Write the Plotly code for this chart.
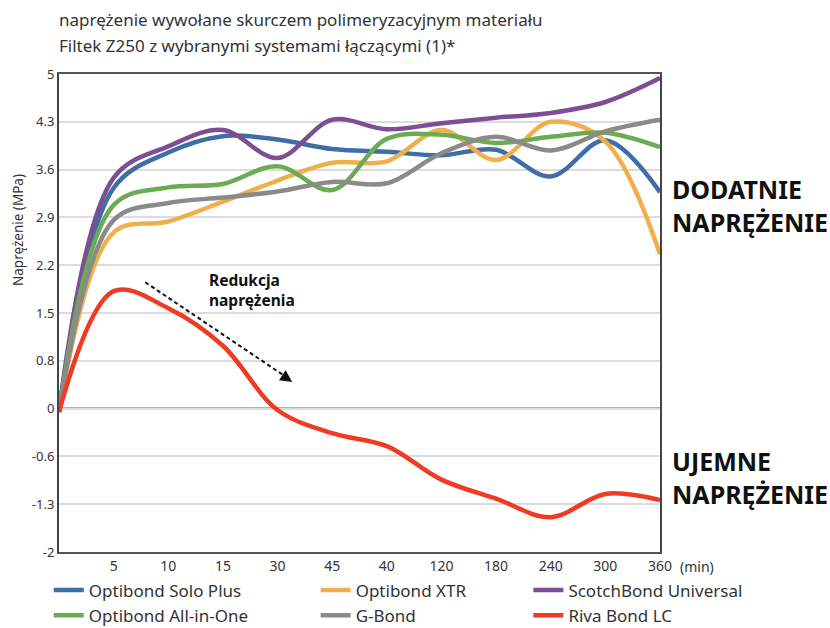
import plotly.graph_objects as go

# x categories (index 0 = start, unlabeled)
x_labels = ["", "5", "10", "15", "30", "45", "40", "120", "180", "240", "300", "360"]

optibond_solo_plus = [0.05, 3.33, 3.85, 4.09, 4.04, 3.90, 3.86, 3.81, 3.89, 3.50, 4.03, 3.27]
optibond_xtr       = [0.05, 2.68, 2.84, 3.13, 3.44, 3.70, 3.72, 4.18, 3.74, 4.30, 4.01, 2.36]
scotchbond_univ    = [0.05, 3.48, 3.94, 4.18, 3.77, 4.33, 4.19, 4.28, 4.36, 4.43, 4.59, 4.94]
optibond_aio       = [0.05, 3.08, 3.34, 3.39, 3.65, 3.30, 4.05, 4.11, 3.99, 4.08, 4.14, 3.93]
g_bond             = [0.05, 2.86, 3.11, 3.19, 3.28, 3.42, 3.40, 3.84, 4.08, 3.88, 4.16, 4.33]
riva_bond_lc       = [0.05, 1.82, 1.57, 1.02, 0.08, -0.26, -0.45, -0.94, -1.22, -1.49, -1.15, -1.24]

series_names = ["Optibond Solo Plus", "Optibond XTR", "ScotchBond Universal",
                "Optibond All-in-One", "G-Bond", "Riva Bond LC"]
series_values = [optibond_solo_plus, optibond_xtr, scotchbond_univ,
                 optibond_aio, g_bond, riva_bond_lc]
series_colors = ["#3e6ea3", "#efb04b", "#7d4e93", "#6aab54", "#8a8a8a", "#ef3b24"]
series_legend = ["legend", "legend2", "legend3", "legend", "legend2", "legend3"]

y_tickvals = [5, 4.3, 3.6, 2.9, 2.2, 1.5, 0.8, 0.1, -0.6, -1.3, -2]
y_ticktext = ["5", "4.3", "3.6", "2.9", "2.2", "1.5", "0.8", "0", "-0.6", "-1.3", "-2"]

FONT = "Noto Sans"
xs = list(range(len(x_labels)))

fig = go.Figure()
for name, vals, col, lg in zip(series_names, series_values, series_colors, series_legend):
    fig.add_trace(go.Scatter(
        x=xs, y=vals, mode="lines", name=name, legend=lg,
        line=dict(color=col, width=4.5, shape="spline", smoothing=1.0),
    ))

fig.update_layout(
    width=830, height=628,
    margin=dict(l=59, r=170, t=74, b=76, autoexpand=False),
    paper_bgcolor="white", plot_bgcolor="white",
    font=dict(family=FONT, color="#333333"),
    showlegend=True,
    xaxis=dict(
        range=[0, 11], tickmode="array", tickvals=xs[1:], ticktext=x_labels[1:],
        showgrid=False, zeroline=False, showline=True, mirror=True,
        linecolor="#555555", linewidth=2, ticks="", tickfont=dict(size=14, color="#333333"),
        automargin=False,
    ),
    yaxis=dict(
        range=[-2, 5], tickmode="array", tickvals=y_tickvals, ticktext=y_ticktext,
        showgrid=True, gridcolor="#dcdcdc", gridwidth=1.5, zeroline=False,
        showline=True, mirror=True, linecolor="#444444", linewidth=2,
        ticks="", tickfont=dict(size=13, color="#333333"), automargin=False,
    ),
)

legend_common = dict(orientation="v", yanchor="top", y=-0.043, xanchor="left",
                     font=dict(size=17, color="#333333", family=FONT),
                     bgcolor="rgba(0,0,0,0)", tracegroupgap=0)
fig.update_layout(
    legend=dict(x=-0.017, **legend_common),
    legend2=dict(x=0.427, **legend_common),
    legend3=dict(x=0.781, **legend_common),
)

# dark line at the "0" tick
fig.add_shape(type="line", xref="paper", x0=0, x1=1, yref="y", y0=0.1, y1=0.1,
              line=dict(color="#666666", width=2), layer="below")

# dashed arrow "Redukcja naprężenia"
fig.add_shape(type="line", xref="x", yref="y", x0=1.58, y0=1.95, x1=4.18, y1=0.55,
              line=dict(color="#111111", width=2, dash="4px,3px"))
fig.add_annotation(x=4.27, y=0.49, ax=4.1, ay=0.58, xref="x", yref="y", axref="x", ayref="y",
                   text="", showarrow=True, arrowhead=2, arrowsize=1.2, arrowwidth=2,
                   arrowcolor="#111111")

title_lines = ["naprężenie wywołane skurczem polimeryzacyjnym materiału",
               "Filtek Z250 z wybranymi systemami łączącymi (1)*"]
for txt, yy in zip(title_lines, [1.113, 1.059]):
    fig.add_annotation(text=txt, xref="paper", yref="paper", x=-0.003, y=yy,
                       xanchor="left", yanchor="middle", showarrow=False,
                       font=dict(size=17, color="#333333", family=FONT))

fig.add_annotation(text="<b>Redukcja<br>naprężenia</b>", xref="x", yref="y", x=2.7, y=1.83,
                   xanchor="left", yanchor="middle", showarrow=False, align="left",
                   font=dict(size=15.5, color="#111111", family=FONT))

fig.add_annotation(text="<b>DODATNIE<br>NAPRĘŻENIE</b>", xref="paper", yref="y", x=1.016, y=3.07,
                   xanchor="left", yanchor="middle", showarrow=False, align="left",
                   font=dict(size=25, color="#111111", family=FONT))
fig.add_annotation(text="<b>UJEMNE<br>NAPRĘŻENIE</b>", xref="paper", yref="y", x=1.016, y=-0.91,
                   xanchor="left", yanchor="middle", showarrow=False, align="left",
                   font=dict(size=25, color="#111111", family=FONT))

fig.add_annotation(text="(min)", xref="paper", yref="paper", x=1.03, y=-0.03,
                   xanchor="left", yanchor="middle", showarrow=False,
                   font=dict(size=14, color="#333333", family=FONT))

fig.add_annotation(text="Naprężenie (MPa)", xref="paper", yref="paper", x=-0.068, y=0.674,
                   xanchor="center", yanchor="middle", showarrow=False, textangle=-90,
                   font=dict(size=13.5, color="#333333", family=FONT))

fig.write_html("out.html", config={"displayModeBar": False},
               post_script="document.body.style.margin='0';")
